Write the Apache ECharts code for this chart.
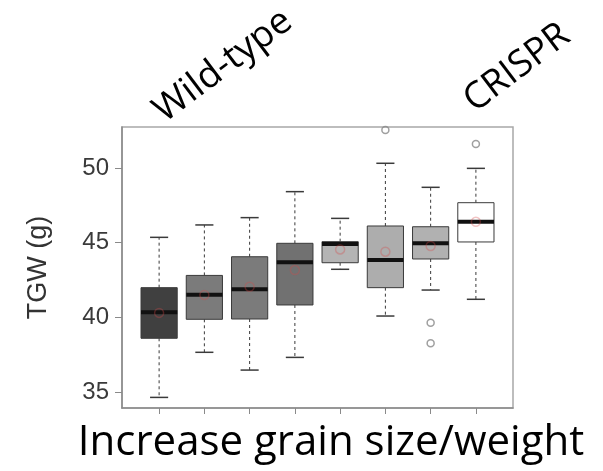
<!DOCTYPE html>
<html>
<head>
<meta charset="utf-8">
<script src="https://cdn.jsdelivr.net/npm/echarts@6/dist/echarts.min.js"></script>
<style>
  html, body { margin: 0; padding: 0; background: #fff; }
  #chart { width: 603px; height: 471px; }
</style>
</head>
<body>
<div id="chart"></div>
<script>
// Group positions along the x axis (one box per line)
const groups = [1, 2, 3, 4, 5, 6, 7, 8];
// Five-number summaries per group: [lower whisker, Q1, median, Q3, upper whisker]
const lowWhisker = [34.64, 37.66, 36.47, 37.32, 43.22, 40.09, 41.83, 41.21];
const q1Values   = [38.60, 39.87, 39.89, 40.83, 43.66, 41.99, 43.91, 45.05];
const medians    = [40.34, 41.52, 41.88, 43.69, 44.91, 43.84, 44.96, 46.41];
const q3Values   = [41.99, 42.81, 44.06, 44.96, 45.07, 46.12, 46.07, 47.68];
const highWhisker= [45.36, 46.19, 46.68, 48.42, 46.63, 50.32, 48.71, 49.98];
// Group means (red circles)
const means      = [40.30, 41.50, 42.05, 43.17, 44.55, 44.40, 44.78, 46.40];
// Outliers as [group, value]
const outliers   = [[6, 52.55], [7, 39.64], [7, 38.26], [8, 51.61]];
// Box fill per group
const boxFills   = ['#404040', '#7b7b7b', '#7b7b7b', '#717171', '#b4b4b4', '#adadad', '#b1b1b1', '#ffffff'];
// Y tick labels
const yTicks     = [35, 40, 45, 50];

const boxData = groups.map((g, i) => [g, lowWhisker[i], q1Values[i], medians[i], q3Values[i], highWhisker[i]]);

const chart = echarts.init(document.getElementById('chart'), null, { renderer: 'canvas' });

function renderBox(params, api) {
  const x = api.value(0);
  const lo = api.value(1), q1 = api.value(2), md = api.value(3), q3 = api.value(4), hi = api.value(5);
  const halfBox = api.size([0.8, 0])[0] / 2;
  const halfCap = api.size([0.4, 0])[0] / 2;
  const pLo = api.coord([x, lo]), pQ1 = api.coord([x, q1]), pMd = api.coord([x, md]);
  const pQ3 = api.coord([x, q3]), pHi = api.coord([x, hi]);
  const cx = pMd[0];
  const whisker = { stroke: '#3a3a3a', lineWidth: 1, lineDash: [3, 3] };
  const cap = { stroke: '#3a3a3a', lineWidth: 1.5 };
  return {
    type: 'group',
    children: [
      { type: 'line', shape: { x1: cx, y1: pQ3[1], x2: cx, y2: pHi[1] }, style: whisker },
      { type: 'line', shape: { x1: cx, y1: pQ1[1], x2: cx, y2: pLo[1] }, style: whisker },
      { type: 'line', shape: { x1: cx - halfCap, y1: pHi[1], x2: cx + halfCap, y2: pHi[1] }, style: cap },
      { type: 'line', shape: { x1: cx - halfCap, y1: pLo[1], x2: cx + halfCap, y2: pLo[1] }, style: cap },
      { type: 'rect', shape: { x: cx - halfBox, y: pQ3[1], width: halfBox * 2, height: pQ1[1] - pQ3[1] },
        style: { fill: boxFills[params.dataIndex], stroke: '#3a3a3a', lineWidth: 1 } },
      { type: 'line', shape: { x1: cx - halfBox, y1: pMd[1], x2: cx + halfBox, y2: pMd[1] },
        style: { stroke: '#111', lineWidth: 4 } }
    ]
  };
}

chart.setOption({
  animation: false,
  backgroundColor: '#fff',
  grid: {
    left: 122, top: 127, width: 391, height: 281,
    show: true, borderColor: '#a8a8a8', borderWidth: 1.5, backgroundColor: '#fff'
  },
  xAxis: {
    type: 'value', min: 0.18, max: 8.82,
    axisLine: { show: true, onZero: false, lineStyle: { color: '#8a8a8a', width: 1.5 } },
    axisTick: { show: true, customValues: groups, length: 6, lineStyle: { color: '#8a8a8a' } },
    axisLabel: { show: false },
    splitLine: { show: false }
  },
  yAxis: {
    type: 'value', min: 33.93, max: 52.75,
    name: 'TGW (g)', nameLocation: 'middle', nameGap: 70, nameRotate: 90,
    nameTextStyle: { fontFamily: 'Liberation Sans', fontSize: 27, color: '#333' },
    axisLine: { show: true, lineStyle: { color: '#8a8a8a', width: 1.5 } },
    axisTick: { show: true, customValues: yTicks, length: 7, lineStyle: { color: '#8a8a8a' } },
    axisLabel: { customValues: yTicks, fontFamily: 'Liberation Sans', fontSize: 24, color: '#3a3a3a', margin: 13 },
    splitLine: { show: false }
  },
  series: [
    {
      type: 'custom', renderItem: renderBox, data: boxData, z: 2,
      encode: { x: 0, y: [1, 2, 3, 4, 5] }
    },
    {
      type: 'scatter', data: groups.map((g, i) => [g, means[i]]), z: 3,
      symbol: 'circle', symbolSize: 9,
      itemStyle: { color: 'rgba(0,0,0,0)', borderColor: 'rgba(215,70,70,0.4)', borderWidth: 1.5 }
    },
    {
      type: 'scatter', data: outliers, z: 3,
      symbol: 'circle', symbolSize: 7,
      itemStyle: { color: 'rgba(0,0,0,0)', borderColor: '#888', borderWidth: 1.5 }
    }
  ],
  graphic: [
    { type: 'text', x: 223, y: 66, rotation: 37 * Math.PI / 180,
      style: { text: 'Wild-type', font: '37px "Open Sans"', fill: '#000', align: 'center', verticalAlign: 'middle' } },
    { type: 'text', x: 517, y: 68, rotation: 37 * Math.PI / 180,
      style: { text: 'CRISPR', font: '37px "Open Sans"', fill: '#000', align: 'center', verticalAlign: 'middle' } },
    { type: 'text', x: 331, y: 443,
      style: { text: 'Increase grain size/weight', font: '42px "Open Sans"', fill: '#000', align: 'center', verticalAlign: 'middle' } }
  ]
});
</script>
</body>
</html>
